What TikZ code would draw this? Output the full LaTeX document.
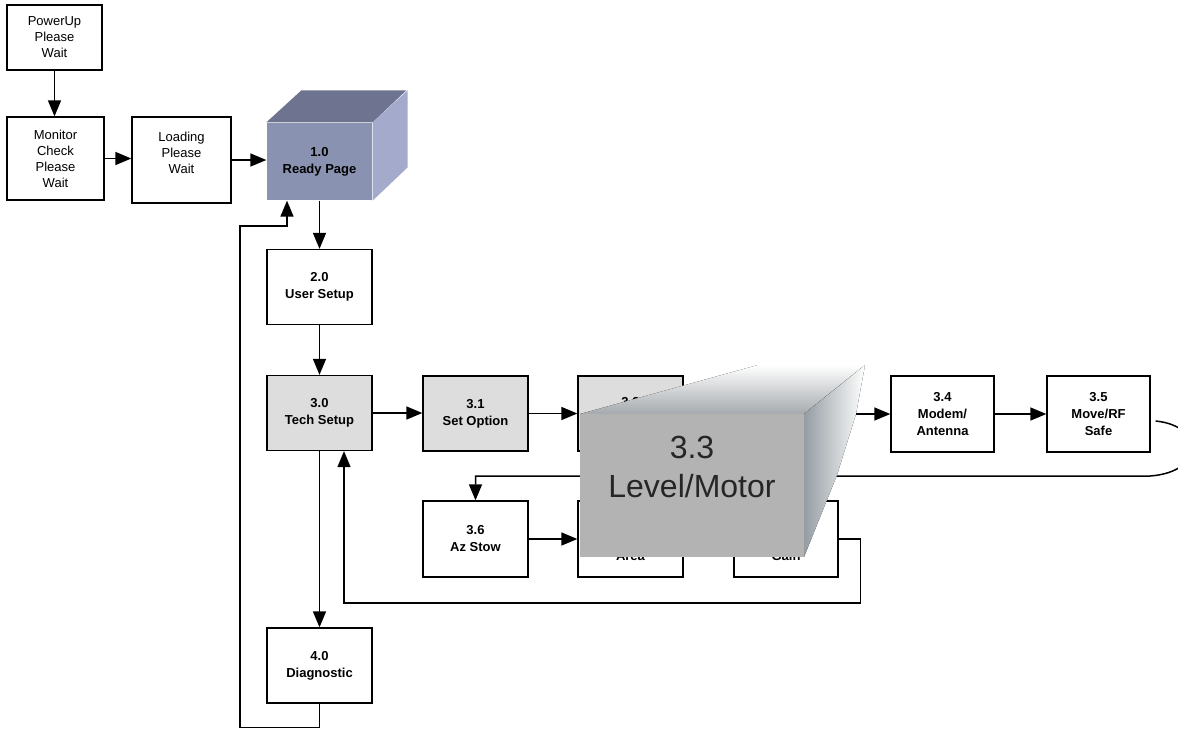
\documentclass[tikz,border=0pt]{standalone}
\usepackage{fontspec}
\setmainfont{Liberation Sans}
\usetikzlibrary{arrows.meta}
\definecolor{rpfront}{HTML}{8A92B2}
\definecolor{rptop}{HTML}{6E7390}
\definecolor{rpside}{HTML}{A3AACB}
\definecolor{techgray}{HTML}{DDDDDD}
\definecolor{lmfront}{HTML}{B3B3B3}
\definecolor{lmtop}{HTML}{A5AAAE}
\definecolor{lmside}{HTML}{959DA3}
\begin{document}
\begin{tikzpicture}[x=1pt,y=-1pt,font=\fontsize{13}{16}\selectfont,
  box/.style={draw,line width=1.3pt,fill=white,align=center,inner sep=0pt,minimum width=105pt,minimum height=75pt},
  numbox/.style={box,font=\fontsize{13}{17}\selectfont\bfseries},
  techbox/.style={numbox,fill=techgray},
  flow/.style={line width=1.5pt,-{Triangle[length=16pt,width=13pt]}}]
\useasboundingbox (0,0) rectangle (1178,729);
% start up
\node[box,minimum width=95pt,minimum height=65pt] (pwr) at (54.5,37.5) {PowerUp\\Please\\Wait};
\node[box,minimum width=97pt,minimum height=83pt] (mon) at (55.5,158.5) {Monitor\\Check\\Please\\Wait};
\node[box,minimum width=99pt,minimum height=86pt,text depth=14pt] (load) at (181.5,160) {Loading\\Please\\Wait};
% ready page cube
\node[numbox,draw=none,fill=rpfront,minimum height=77pt] (rp10) at (319.5,161.5) {1.0\\Ready Page};
\fill[rptop] (rp10.north west) -- ++(35,-32) -- ++(105,0) -- (rp10.north east) -- cycle;
\fill[rpside] (rp10.north east) -- ++(35,-32) -- ++(0,77) -- (rp10.south east) -- cycle;
% menu boxes
\node[numbox] (us20) at (319.5,287) {2.0\\User Setup};
\node[techbox] (ts30) at (319.5,413) {3.0\\Tech Setup};
\node[techbox] (so31) at (475.5,413.5) {3.1\\Set Option};
\node[techbox] (lc32) at (630.5,413.5) {3.2\\\strut};
\node[numbox,minimum width=103pt,minimum height=76pt] (mo34) at (942.5,414) {3.4\\Modem/\\Antenna};
\node[numbox,minimum width=103pt,minimum height=76pt] (mv35) at (1098.5,414) {3.5\\Move/RF\\Safe};
\node[numbox,minimum height=76pt] (az36) at (475.5,539) {3.6\\Az Stow};
\node[numbox,minimum height=76pt] (sa37) at (630.5,539) {3.7\\\strut\\Area};
\node[numbox,minimum width=104pt,minimum height=76pt] (pg38) at (786,539) {3.8\\\strut\\Gain};
\node[numbox] (dg40) at (319.5,665.5) {4.0\\Diagnostic};
\coordinate (in33) at (734,413.5);
\coordinate (out33) at (838,414);
\coordinate (back38) at (344,603);
% connectors
\draw[flow] (pwr.south) -- (pwr.south |- mon.north);
\draw[flow] (mon.east) -- (mon.east -| load.west);
\draw[flow] (load.east) -- (load.east -| rp10.west);
\draw[flow] (rp10.south) -- (us20.north);
\draw[flow] (us20) -- (ts30);
\draw[flow] (ts30.east) -- (ts30.east -| so31.west);
\draw[flow] (so31) -- (lc32);
\draw[flow] (lc32) -- (in33);
\draw[flow] (out33) -- (mo34);
\draw[flow] (mo34) -- (mv35);
\draw[flow] ([xshift=5pt,yshift=-7pt]mv35.east) .. controls (1205,426) and (1205,472) .. (1150,476) -| (az36.north);
\draw[flow] (az36) -- (sa37);
\draw[flow] (sa37) -- (pg38);
\draw[flow] (pg38.east) -- ++(22,0) |- (back38) -- (back38 |- ts30.south);
\draw[flow] (ts30) -- (dg40);
\draw[flow] (dg40.south) -- ++(0,24) -| (240,226) -| ([xshift=-32.5pt]rp10.south);
% level/motor cube on top
\fill[top color=white,bottom color=lmtop] (580,414) -- (758,365) -- (865,365) -- (804,414) -- cycle;
\fill[left color=lmside,middle color=lmside!25!white,right color=white] (804,414) -- (865,365) -- (856,414) -- (837,475) -- (804,557) -- cycle;
\node[fill=lmfront,inner sep=0pt,minimum width=224pt,minimum height=143pt] (lm33) at (692,485.5) {};
\node[font=\fontsize{32}{39}\selectfont,align=center,inner sep=0pt,text=black!85] (lm33t) at (692,467) {3.3\\Level/Motor};
\end{tikzpicture}
\end{document}
